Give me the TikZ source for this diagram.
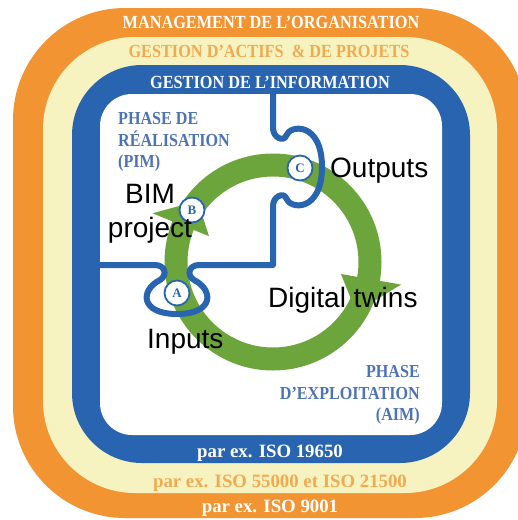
\documentclass[tikz,border=0pt]{standalone}
\usepackage{fontspec}
\setmainfont{Liberation Serif}
\newfontfamily\arialf{Liberation Sans}
\newfontfamily\narrowserif[FakeStretch=0.88]{Liberation Serif}
\definecolor{orng}{RGB}{243,148,50}
\definecolor{ylw}{RGB}{246,243,192}
\definecolor{blu}{RGB}{40,100,176}
\definecolor{phasec}{RGB}{78,115,180}
\definecolor{ortext}{RGB}{242,170,80}
\definecolor{grn}{RGB}{108,165,60}
\tikzset{
  band/.style={inner sep=0pt, anchor=base, font=\narrowserif\bfseries\fontsize{18.5}{20}\selectfont},
  isotxt/.style={inner sep=0pt, anchor=base, font=\bfseries\fontsize{18.8}{20}\selectfont},
  phasel/.style={inner sep=0pt, anchor=base west, text=phasec, font=\narrowserif\bfseries\fontsize{18.3}{20}\selectfont},
  phaser/.style={inner sep=0pt, anchor=base east, text=phasec, font=\narrowserif\bfseries\fontsize{18.3}{20}\selectfont},
  lbl/.style={inner sep=0pt, font=\arialf\fontsize{28}{30}\selectfont},
  letter/.style={circle, draw=blu, line width=1.8pt, fill=white, minimum size=25pt, inner sep=0pt,
    text=blu, font=\bfseries\fontsize{13}{13}\selectfont},
  divider/.style={draw=blu, line width=6pt, line join=round, line cap=round},
}
\begin{document}
\begin{tikzpicture}[x=1pt,y=-1pt]
\useasboundingbox (0,0) rectangle (518,520);
\clip (0,0) rectangle (518,520);
\fill[white] (0,0) rectangle (518,520);
% nested frames
\fill[orng, rounded corners=112pt] (13,8) rectangle (527,518);
\fill[ylw, rounded corners=92pt] (43,37) rectangle (497,493);
\fill[blu, rounded corners=70pt] (72,65) rectangle (470,463);
\fill[white, rounded corners=32pt] (100,94) rectangle (442,435);
% green cycle
\coordinate (ctr) at (273,262);
\draw[grn, line width=23pt] (ctr) circle (97);
\fill[grn] ([shift={(202:130)}]ctr) -- ([shift={(219:97)}]ctr) -- ([shift={(202:69)}]ctr) -- cycle;
\fill[grn] ([shift={(10:69)}]ctr) -- ([shift={(31:97)}]ctr) -- ([shift={(10:130)}]ctr) -- cycle;
% divider with puzzle tabs
\path[divider] (273,92) -- (273,128) .. controls (273,138) and (284,142) .. (286,136)
  .. controls (290,124) and (322,122) .. (322,167)
  .. controls (322,212) and (290,210) .. (286,198)
  .. controls (284,192) and (273,196) .. (273,206) -- (273,265) -- (199,265)
  .. controls (189,265) and (186,275) .. (194,280)
  .. controls (214,290) and (214,314) .. (177,314)
  .. controls (140,314) and (140,290) .. (160,280)
  .. controls (168,275) and (165,265) .. (155,265) -- (98,265);
% letters
\node[letter] (A) at (177,293) {A};
\node[letter] (B) at (192,210) {B};
\node[letter] (C) at (300,168) {C};
% band titles
\node[band, text=white] (t1) at (271,28) {MANAGEMENT DE L’ORGANISATION};
\node[band, text=ortext] (t2) at (269,57) {GESTION D’ACTIFS\ \ \& DE PROJETS};
\node[band, text=white] (t3) at (270,88) {GESTION DE L’INFORMATION};
% phases
\node[phasel] (p1) at (118,124) {PHASE DE};
\node[phasel] (p2) at (118,146) {RÉALISATION};
\node[phasel] (p3) at (118,167) {(PIM)};
\node[phaser] (q1) at (420,377) {PHASE};
\node[phaser] (q2) at (420,399) {D’EXPLOITATION};
\node[phaser] (q3) at (420,420) {(AIM)};
% ISO lines
\node[isotxt, text=white] (i1) at (270,457) {par ex. ISO 19650};
\node[isotxt, text=ortext] (i2) at (280,487) {par ex. ISO 55000 et ISO 21500};
\node[isotxt, text=white] (i3) at (270,512) {par ex. ISO 9001};
% black labels
\node[lbl, anchor=base west] (out) at (330,177) {Outputs};
\node[lbl, anchor=base] (bim) at (150,203) {BIM};
\node[lbl, anchor=base] (proj) at (150,237) {project};
\node[lbl, anchor=base west] (dt) at (268,307) {Digital twins};
\node[lbl, anchor=base west] (inp) at (147,348) {Inputs};
\end{tikzpicture}
\end{document}
